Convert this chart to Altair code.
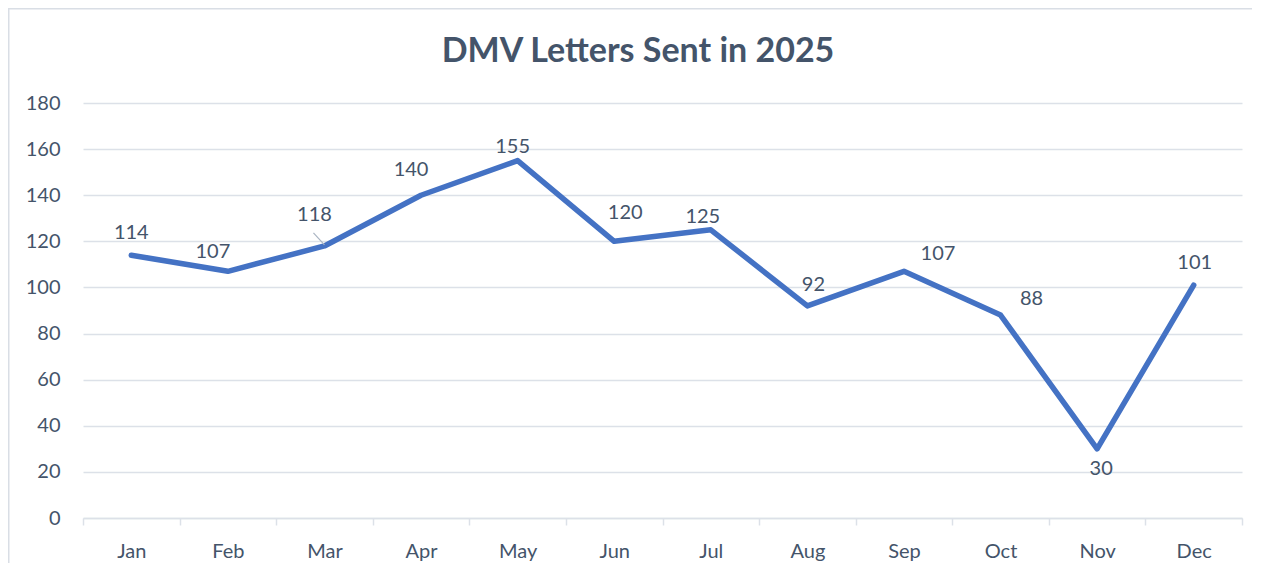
import altair as alt
import pandas as pd

months = ["Jan", "Feb", "Mar", "Apr", "May", "Jun", "Jul", "Aug", "Sep", "Oct", "Nov", "Dec"]
letters = [114, 107, 118, 140, 155, 120, 125, 92, 107, 88, 30, 101]
y_ticks = [0, 20, 40, 60, 80, 100, 120, 140, 160, 180]
title_text = "DMV Letters Sent in 2025"

# label placement (pixel offsets of each data label from its point)
label_offsets = {
    "Jan": (0, -22), "Feb": (-15, -19), "Mar": (-10, -31), "Apr": (-10, -25),
    "May": (-5, -14), "Jun": (11, -28), "Jul": (-8, -13), "Aug": (6, -21),
    "Sep": (34, -17), "Oct": (31, -16), "Nov": (4, 20), "Dec": (1, -22),
}

df = pd.DataFrame({"month": months, "value": letters})

FONT = "Lato"
TXT = "#44546A"
GRID = "#DCE1E8"
FRAME = "#D9DEE5"
FS = 20

x_enc = alt.X(
    "month:N", sort=months, bandPosition=0.5,
    scale=alt.Scale(type="band", paddingInner=0, paddingOuter=0),
    axis=alt.Axis(
        title=None, labelAngle=0, tickBand="extent", grid=False,
        domainColor=GRID, domainWidth=1.5, tickColor=GRID, tickWidth=1.5,
        tickSize=7, labelPadding=16, labelFont=FONT, labelFontSize=FS,
        labelColor=TXT,
    ),
)
y_enc = alt.Y(
    "value:Q",
    scale=alt.Scale(domain=[0, 180], nice=False),
    axis=alt.Axis(
        title=None, values=y_ticks, domain=False, ticks=False, labelPadding=23,
        gridColor=GRID, gridWidth=1.5, labelFont=FONT, labelFontSize=FS,
        labelColor=TXT,
    ),
)

base = alt.Chart(df)
one = base.transform_filter(alt.datum.month == "Jan")

# chart-area border (only its top and left edges fall inside the picture)
frame_top = one.mark_rect(color=FRAME, strokeWidth=0).encode(
    x=alt.value(-75), x2=alt.value(1169), y=alt.value(-95), y2=alt.value(-93.5)
)
frame_left = one.mark_rect(color=FRAME, strokeWidth=0).encode(
    x=alt.value(-75), x2=alt.value(-73.5), y=alt.value(-95), y2=alt.value(460)
)

title = one.mark_text(
    text=title_text, font=FONT, fontSize=34, fontWeight="bold", color=TXT,
    align="center", baseline="alphabetic",
).encode(x=alt.value(555), y=alt.value(-41.5))

line = base.mark_line(
    color="#4472C4", strokeWidth=5.5, strokeCap="round", strokeJoin="round"
).encode(x=x_enc, y=y_enc)

leader = base.mark_rule(
    color="#A9B4C2", strokeWidth=1.2, x2Offset=-11, y2Offset=-13, yOffset=-1
).encode(
    x=alt.X("month:N", sort=months, bandPosition=0.5),
    x2="month:N",
    y="value:Q",
    y2="value:Q",
).transform_filter(alt.datum.month == "Mar")

labels = []
for m, (dx, dy) in label_offsets.items():
    labels.append(
        base.mark_text(
            dx=dx, dy=dy, font=FONT, fontSize=FS, color=TXT, baseline="middle"
        ).encode(
            x=alt.X("month:N", sort=months, bandPosition=0.5),
            y="value:Q",
            text="value:Q",
        ).transform_filter(alt.datum.month == m)
    )

chart = alt.layer(frame_top, frame_left, title, line, leader, *labels).properties(
    width=1159,
    height=415,
    padding={"left": 75, "top": 95, "right": 10, "bottom": 45},
    autosize=alt.AutoSizeParams(type="none"),
).configure_view(stroke=None)

chart.save("out.html", embed_options={"renderer": "svg", "actions": False})
